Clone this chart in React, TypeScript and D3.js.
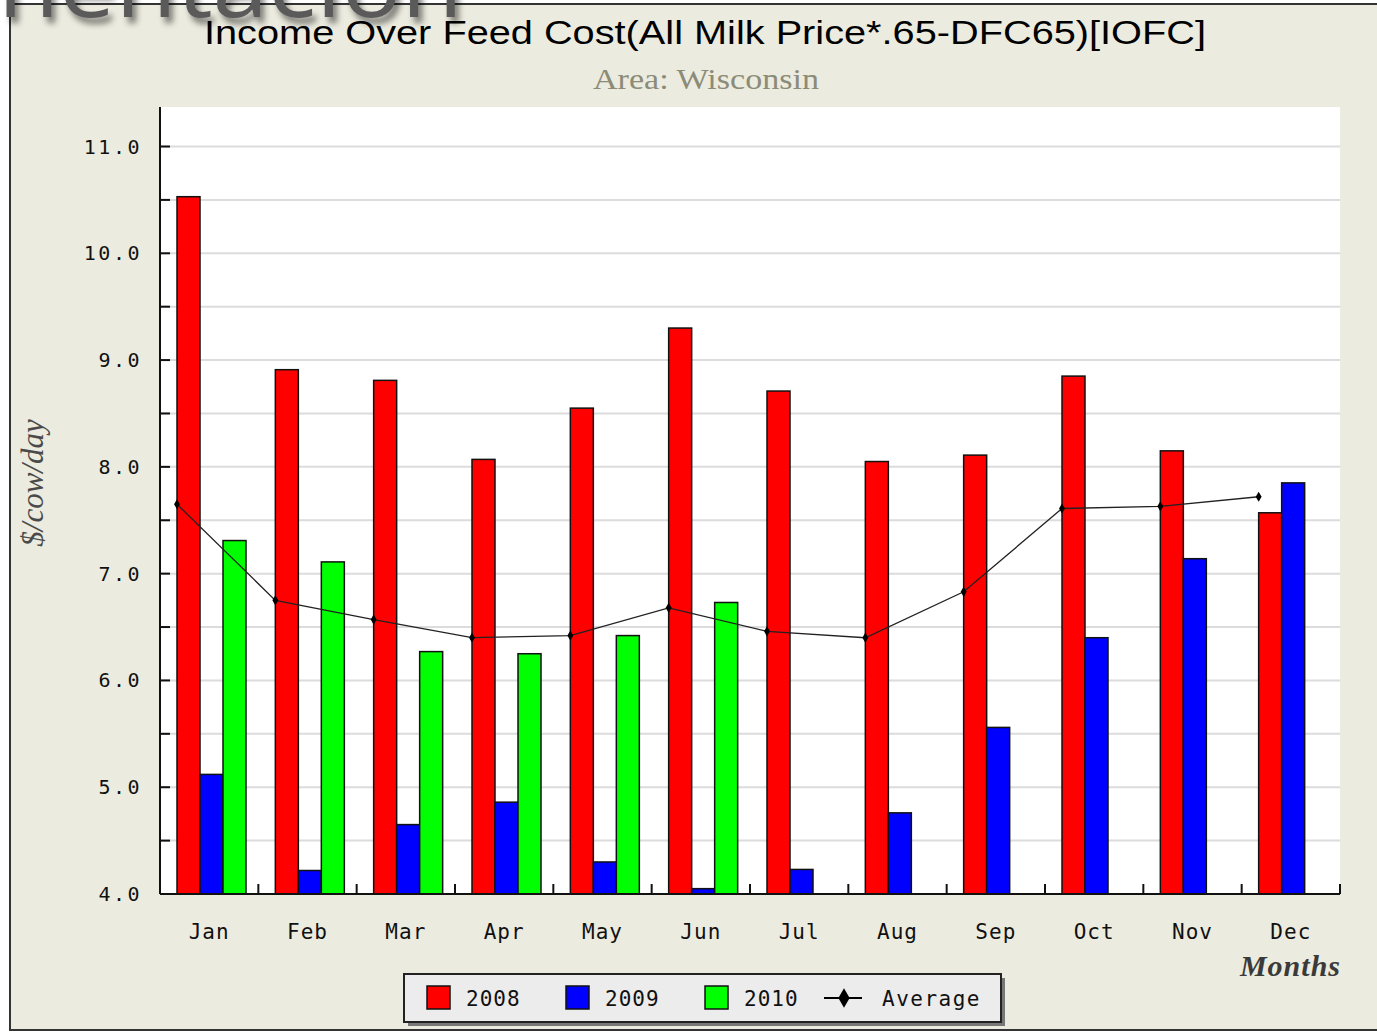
import React, { useRef, useEffect } from "react";
import * as d3 from "d3";

const months = ["Jan", "Feb", "Mar", "Apr", "May", "Jun", "Jul", "Aug", "Sep", "Oct", "Nov", "Dec"];
const years = ["2008", "2009", "2010"];
const iofc2008 = [10.53, 8.91, 8.81, 8.07, 8.55, 9.3, 8.71, 8.05, 8.11, 8.85, 8.15, 7.57];
const iofc2009 = [5.12, 4.22, 4.65, 4.86, 4.3, 4.05, 4.23, 4.76, 5.56, 6.4, 7.14, 7.85];
const iofc2010 = [7.31, 7.11, 6.27, 6.25, 6.42, 6.73, null, null, null, null, null, null];
const average = [7.65, 6.75, 6.57, 6.4, 6.42, 6.68, 6.46, 6.4, 6.83, 7.61, 7.63, 7.72];
const yTicks = [4, 5, 6, 7, 8, 9, 10, 11];
const colors = ["#ff0000", "#0000ff", "#00ff00"];

export default function App() {
  const svgRef = useRef<SVGSVGElement | null>(null);

  useEffect(() => {
    const W = 1377, H = 1033;
    const svg = d3.select(svgRef.current).attr("width", W).attr("height", H);
    svg.selectAll("*").remove();

    const mono = "'DejaVu Sans Mono', monospace";
    const left = 160, right = 1340, top = 107, bottom = 894;

    // frame
    svg.append("rect").attr("x", 10).attr("y", 4).attr("width", W).attr("height", 1026)
      .attr("fill", "#ecebdf").attr("stroke", "#333").attr("stroke-width", 2);

    svg.append("text").attr("x", 705).attr("y", 44).attr("text-anchor", "middle")
      .attr("font-family", "'Liberation Sans', Arial, sans-serif").attr("font-size", 34)
      .attr("textLength", 1002).attr("lengthAdjust", "spacingAndGlyphs").attr("fill", "#000")
      .text("Income Over Feed Cost(All Milk Price*.65-DFC65)[IOFC]");
    svg.append("text").attr("x", 706).attr("y", 89).attr("text-anchor", "middle")
      .attr("font-family", "'Liberation Serif', serif").attr("font-size", 29)
      .attr("textLength", 226).attr("lengthAdjust", "spacingAndGlyphs").attr("fill", "#8b8b78")
      .text("Area: Wisconsin");

    const x = d3.scaleBand().domain(months).range([left, right]).padding(0);
    const y = d3.scaleLinear().domain([4, 11.37]).range([bottom, top]);
    const slot = d3.scaleBand().domain(years).range([17, 17 + 69]).padding(0);

    svg.append("rect").attr("x", left).attr("y", top).attr("width", right - left).attr("height", bottom - top).attr("fill", "#fff");

    const halfTicks = d3.range(4.5, 11.01, 0.5);
    svg.append("g").selectAll("line").data(halfTicks).join("line")
      .attr("x1", left).attr("x2", right).attr("y1", d => y(d)).attr("y2", d => y(d))
      .attr("stroke", "#dcdcdc").attr("stroke-width", 2);

    const series = [iofc2008, iofc2009, iofc2010];
    series.forEach((vals, i) => {
      svg.append("g").selectAll("rect").data(vals.map((v, j) => ({ v, m: months[j] })).filter(d => d.v != null)).join("rect")
        .attr("x", d => (x(d.m) as number) + (slot(years[i]) as number))
        .attr("y", d => y(d.v as number))
        .attr("width", slot.bandwidth())
        .attr("height", d => y(4) - y(d.v as number))
        .attr("fill", colors[i]).attr("stroke", "#111").attr("stroke-width", 1.5);
    });

    // average line
    const px = (m: string) => (x(m) as number) + 17;
    const line = d3.line<number>().x((d, i) => px(months[i])).y(d => y(d));
    svg.append("path").attr("d", line(average)).attr("fill", "none").attr("stroke", "#222").attr("stroke-width", 1.3);
    svg.append("g").selectAll("path").data(average).join("path")
      .attr("d", d3.symbol().type(d3.symbolDiamond).size(30)())
      .attr("transform", (d, i) => `translate(${px(months[i])},${y(d)})`).attr("fill", "#000");

    // axes
    svg.append("line").attr("x1", left).attr("x2", left).attr("y1", top).attr("y2", bottom).attr("stroke", "#111").attr("stroke-width", 2);
    svg.append("line").attr("x1", left).attr("x2", right).attr("y1", bottom).attr("y2", bottom).attr("stroke", "#111").attr("stroke-width", 2);
    svg.append("g").selectAll("line").data(halfTicks).join("line")
      .attr("x1", left).attr("x2", left + 10).attr("y1", d => y(d)).attr("y2", d => y(d)).attr("stroke", "#111").attr("stroke-width", 2);
    svg.append("g").selectAll("text").data(yTicks).join("text")
      .attr("x", 142).attr("y", d => y(d) + 7).attr("text-anchor", "end")
      .attr("font-family", mono).attr("font-size", 20).attr("letter-spacing", 2.5).attr("fill", "#111")
      .text(d => d3.format(".1f")(d));
    svg.append("g").selectAll("line").data(months.slice(1).map(m => x(m) as number).concat([right])).join("line")
      .attr("x1", d => d).attr("x2", d => d).attr("y1", bottom).attr("y2", bottom - 10).attr("stroke", "#111").attr("stroke-width", 2);
    svg.append("g").selectAll("text").data(months).join("text")
      .attr("x", d => (x(d) as number) + x.bandwidth() / 2).attr("y", 939).attr("text-anchor", "middle")
      .attr("font-family", mono).attr("font-size", 21).attr("letter-spacing", 1).attr("fill", "#111").text(d => d);

    svg.append("text").attr("transform", "translate(43,483) rotate(-90)").attr("text-anchor", "middle")
      .attr("font-family", "'Liberation Serif', serif").attr("font-style", "italic").attr("font-size", 31)
      .attr("fill", "#4a4a4a").text("$/cow/day");
    svg.append("text").attr("x", 1341).attr("y", 976).attr("text-anchor", "end")
      .attr("font-family", "'Liberation Serif', serif").attr("font-style", "italic").attr("font-weight", "bold")
      .attr("font-size", 30).attr("letter-spacing", 1).attr("fill", "#3a3a3a").text("Months");

    // legend
    const lg = svg.append("g");
    lg.append("rect").attr("x", 408).attr("y", 978).attr("width", 597).attr("height", 48).attr("fill", "#777");
    lg.append("rect").attr("x", 404).attr("y", 974).attr("width", 597).attr("height", 48)
      .attr("fill", "#ececec").attr("stroke", "#222").attr("stroke-width", 2);
    const lx = [427, 566, 705];
    years.forEach((yr, i) => {
      lg.append("rect").attr("x", lx[i]).attr("y", 986).attr("width", 23).attr("height", 23)
        .attr("fill", colors[i]).attr("stroke", "#111").attr("stroke-width", 1.5);
      lg.append("text").attr("x", lx[i] + 39).attr("y", 1006).attr("font-family", mono).attr("font-size", 21)
        .attr("letter-spacing", 1).attr("fill", "#111").text(yr);
    });
    lg.append("line").attr("x1", 824).attr("x2", 862).attr("y1", 998).attr("y2", 998).attr("stroke", "#000").attr("stroke-width", 2);
    lg.append("path").attr("d", d3.symbol().type(d3.symbolDiamond).size(110)()).attr("transform", "translate(844,998)").attr("fill", "#000");
    lg.append("text").attr("x", 882).attr("y", 1006).attr("font-family", mono).attr("font-size", 21)
      .attr("letter-spacing", 1.5).attr("fill", "#111").text("Average");

    // slide overlay text cut at the top
    const defs = svg.append("defs");
    defs.append("filter").attr("id", "blur").append("feGaussianBlur").attr("stdDeviation", 3);
    svg.append("text").attr("x", 2).attr("y", 23).attr("font-family", "'Open Sans', sans-serif").attr("font-size", 92)
      .attr("textLength", 465).attr("lengthAdjust", "spacingAndGlyphs").attr("fill", "#000").attr("opacity", 0.5)
      .attr("filter", "url(#blur)").text("nentacion");
    svg.append("text").attr("x", -2).attr("y", 17).attr("font-family", "'Open Sans', sans-serif").attr("font-size", 92)
      .attr("textLength", 465).attr("lengthAdjust", "spacingAndGlyphs").attr("fill", "#5a5a5a").text("nentacion");
  }, []);

  return (
    <div style={{ position: "absolute", left: 0, top: 0 }}>
      <svg ref={svgRef} style={{ display: "block" }} />
    </div>
  );
}
